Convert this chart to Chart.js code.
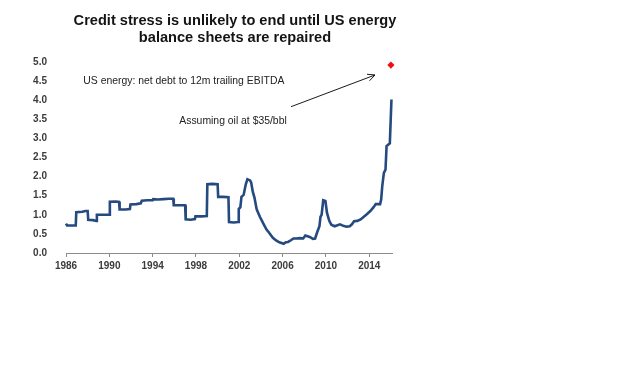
<!DOCTYPE html>
<html>
<head>
<meta charset="utf-8">
<script src="https://cdn.jsdelivr.net/npm/chart.js@4.4.1/dist/chart.umd.min.js"></script>
<style>
  html, body { margin: 0; padding: 0; background: #ffffff; }
  #wrap { width: 640px; height: 383px; position: relative; }
</style>
</head>
<body>
<div id="wrap"><canvas id="c" width="640" height="383"></canvas></div>
<script>
// ---- Data ----
const titleLines = ["Credit stress is unlikely to end until US energy", "balance sheets are repaired"];
const seriesLabel = "US energy: net debt to 12m trailing EBITDA";
const scenarioLabel = "Assuming oil at $35/bbl";

const years = [
  1986.0, 1986.1, 1986.9, 1986.95, 1987.5, 1987.8, 1988.0, 1988.05, 1988.5, 1988.8,
  1988.85, 1989.5, 1990.0, 1990.05, 1990.6, 1990.9, 1990.95, 1991.5, 1991.9, 1991.95,
  1992.5, 1992.9, 1993.0, 1993.5, 1994.0, 1994.05, 1994.5, 1995.0, 1995.5, 1995.9,
  1995.95, 1996.5, 1997.0, 1997.05, 1997.5, 1997.9, 1997.95, 1998.5, 1999.0, 1999.05,
  1999.5, 2000.0, 2000.05, 2000.5, 2001.0, 2001.05, 2001.5, 2001.9, 2001.95, 2002.1,
  2002.2, 2002.4, 2002.6, 2002.75, 2003.0, 2003.1, 2003.25, 2003.4, 2003.6, 2003.75,
  2003.9, 2004.2, 2004.5, 2004.7, 2005.1, 2005.4, 2005.7, 2006.1, 2006.3, 2006.5,
  2006.8, 2007.0, 2007.3, 2007.6, 2007.9, 2008.1, 2008.5, 2008.8, 2009.0, 2009.2,
  2009.4, 2009.5, 2009.6, 2009.75, 2009.95, 2010.1, 2010.3, 2010.5, 2010.8, 2011.0,
  2011.3, 2011.6, 2011.9, 2012.2, 2012.4, 2012.6, 2012.9, 2013.2, 2013.5, 2013.8,
  2014.1, 2014.4, 2014.6, 2015.0, 2015.1, 2015.2, 2015.35, 2015.5, 2015.6, 2015.9,
  2016.05
];
const netDebtToEbitda = [
  0.77, 0.72, 0.72, 1.07, 1.08, 1.10, 1.10, 0.87, 0.86, 0.84,
  1.00, 1.00, 1.00, 1.34, 1.35, 1.34, 1.14, 1.14, 1.15, 1.27,
  1.28, 1.30, 1.37, 1.38, 1.38, 1.41, 1.40, 1.41, 1.42, 1.42,
  1.25, 1.25, 1.25, 0.88, 0.87, 0.89, 0.96, 0.96, 0.97, 1.80,
  1.81, 1.80, 1.47, 1.47, 1.46, 0.81, 0.80, 0.81, 1.15, 1.20,
  1.47, 1.52, 1.80, 1.93, 1.90, 1.84, 1.60, 1.45, 1.15, 1.05,
  0.95, 0.78, 0.62, 0.55, 0.40, 0.33, 0.28, 0.24, 0.28, 0.29,
  0.34, 0.38, 0.38, 0.39, 0.38, 0.46, 0.42, 0.37, 0.38, 0.55,
  0.70, 0.95, 1.00, 1.38, 1.36, 1.05, 0.85, 0.74, 0.70, 0.72,
  0.75, 0.71, 0.69, 0.70, 0.75, 0.83, 0.84, 0.88, 0.95, 1.02,
  1.10, 1.20, 1.28, 1.28, 1.40, 1.75, 2.10, 2.18, 2.80, 2.87,
  4.02
];
const scenarioYear = [2016.0];
const scenarioValue = [4.92];

const xTickYears = [1986, 1990, 1994, 1998, 2002, 2006, 2010, 2014];
const yTickValues = [0, 0.5, 1, 1.5, 2, 2.5, 3, 3.5, 4, 4.5, 5];

// annotation anchors (in data units)
const seriesLabelAt = { x: 1987.6, y: 4.49 };
const scenarioLabelAt = { x: 1996.46, y: 3.44 };
const arrowFrom = { x: 2006.78, y: 3.83 };
const arrowTo = { x: 2014.53, y: 4.66 };

// ---- Build chart ----
const linePoints = years.map((yr, i) => ({ x: yr, y: netDebtToEbitda[i] }));
const scenarioPoints = scenarioYear.map((yr, i) => ({ x: yr, y: scenarioValue[i] }));

const tickFont = { family: "'Liberation Sans', Arial, sans-serif", size: 10, weight: 'bold' };
const tickColor = '#3b3b3b';

const overlay = {
  id: 'overlay',
  afterDraw(chart) {
    const ctx = chart.ctx;
    const xs = chart.scales.x, ys = chart.scales.y;
    ctx.save();
    // title
    ctx.fillStyle = '#141414';
    ctx.font = "bold 14.6px 'Liberation Sans', Arial, sans-serif";
    ctx.textAlign = 'center';
    ctx.textBaseline = 'middle';
    const cx = 235;
    ctx.fillText(titleLines[0], cx, 21);
    ctx.fillText(titleLines[1], cx, 37.5);
    // annotation texts
    ctx.fillStyle = '#222222';
    ctx.font = "10.4px 'Liberation Sans', Arial, sans-serif";
    ctx.textAlign = 'left';
    ctx.fillText(seriesLabel, xs.getPixelForValue(seriesLabelAt.x), ys.getPixelForValue(seriesLabelAt.y));
    ctx.fillText(scenarioLabel, xs.getPixelForValue(scenarioLabelAt.x), ys.getPixelForValue(scenarioLabelAt.y));
    // arrow
    const x1 = xs.getPixelForValue(arrowFrom.x), y1 = ys.getPixelForValue(arrowFrom.y);
    const x2 = xs.getPixelForValue(arrowTo.x), y2 = ys.getPixelForValue(arrowTo.y);
    ctx.strokeStyle = '#1a1a1a';
    ctx.lineWidth = 1;
    ctx.beginPath();
    ctx.moveTo(x1, y1);
    ctx.lineTo(x2, y2);
    const ang = Math.atan2(y2 - y1, x2 - x1);
    const len = 8;
    ctx.moveTo(x2, y2);
    ctx.lineTo(x2 - len * Math.cos(ang - 0.45), y2 - len * Math.sin(ang - 0.45));
    ctx.moveTo(x2, y2);
    ctx.lineTo(x2 - len * Math.cos(ang + 0.45), y2 - len * Math.sin(ang + 0.45));
    ctx.stroke();
    ctx.restore();
  }
};

new Chart(document.getElementById('c'), {
  type: 'line',
  data: {
    datasets: [
      {
        label: seriesLabel,
        data: linePoints,
        borderColor: '#254a80',
        borderWidth: 2.6,
        pointRadius: 0,
        tension: 0,
        fill: false,
        clip: false
      },
      {
        label: scenarioLabel,
        data: scenarioPoints,
        showLine: false,
        pointStyle: 'rectRot',
        pointRadius: 3.6,
        pointBackgroundColor: '#ee1111',
        pointBorderColor: '#ee1111',
        borderWidth: 0,
        clip: false
      }
    ]
  },
  options: {
    responsive: false,
    animation: false,
    layout: { padding: { left: 0, top: 62, right: 248, bottom: 100 } },
    plugins: {
      legend: { display: false },
      title: { display: false },
      tooltip: { enabled: false }
    },
    scales: {
      x: {
        type: 'linear',
        min: 1986,
        max: 2016.1,
        afterBuildTicks(scale) { scale.ticks = xTickYears.map(v => ({ value: v })); },
        afterFit(scale) { scale.height = 30; },
        ticks: {
          font: tickFont,
          color: tickColor,
          padding: 3,
          maxRotation: 0,
          autoSkip: false,
          callback: v => String(v)
        },
        grid: { drawOnChartArea: false, drawTicks: true, tickLength: 4, color: '#8c8c8c' },
        border: { display: true, color: '#8c8c8c', width: 1 }
      },
      y: {
        min: 0,
        max: 5,
        afterBuildTicks(scale) { scale.ticks = yTickValues.map(v => ({ value: v })); },
        afterFit(scale) { scale.width = 66; },
        ticks: {
          font: tickFont,
          color: tickColor,
          padding: 19,
          autoSkip: false,
          callback: v => Number(v).toFixed(1)
        },
        grid: { display: false, drawTicks: false },
        border: { display: false }
      }
    }
  },
  plugins: [overlay]
});
</script>
</body>
</html>
